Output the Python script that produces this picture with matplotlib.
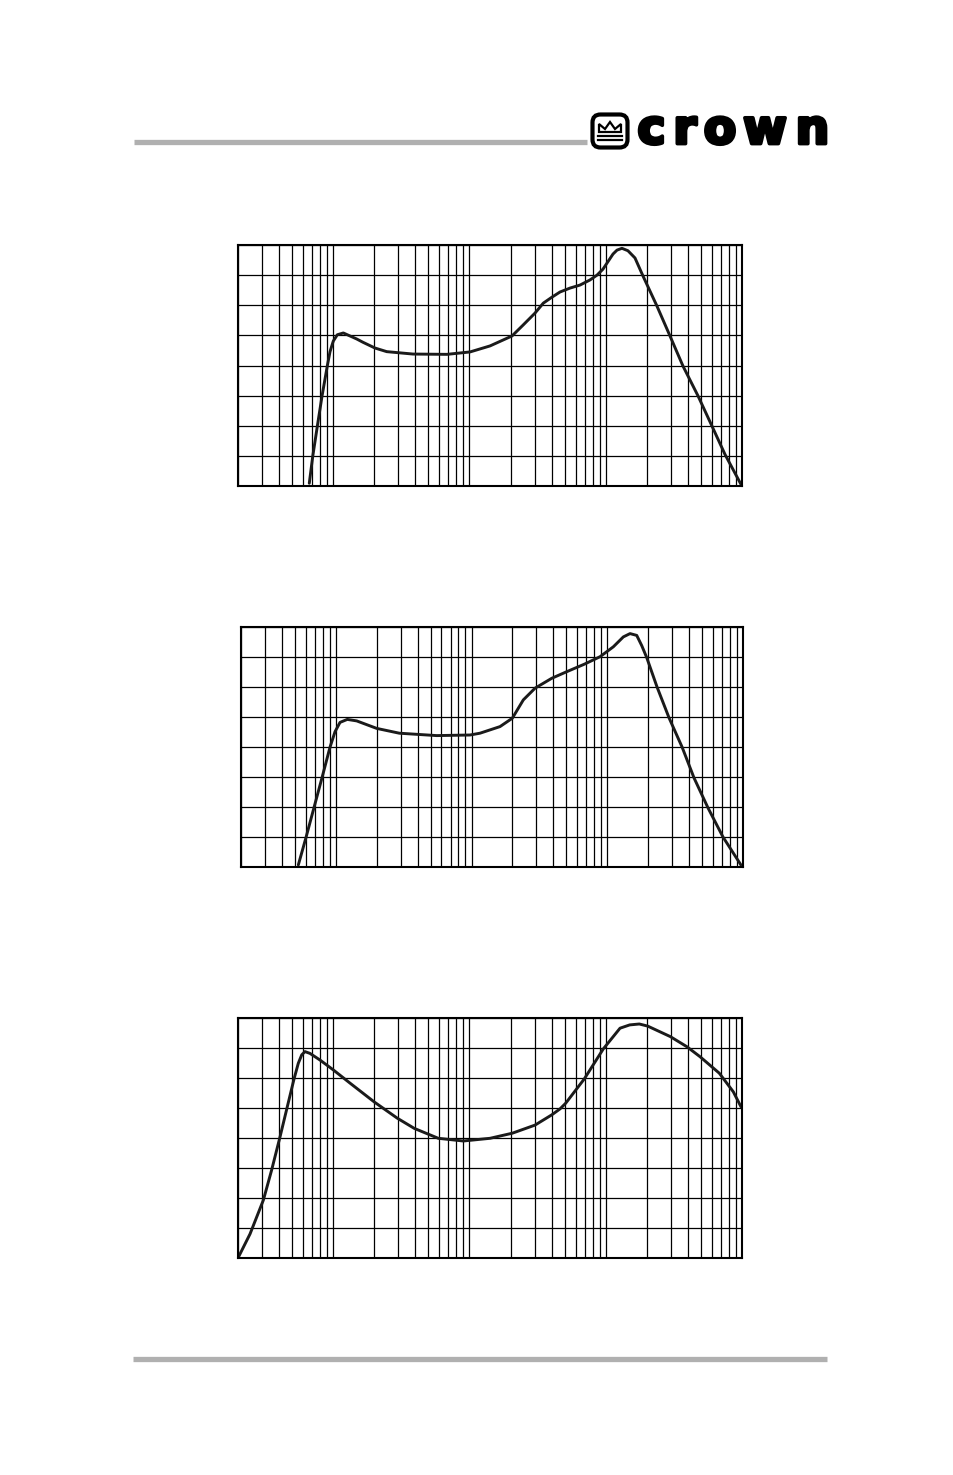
import numpy as np
import matplotlib
matplotlib.use("Agg")
import matplotlib.pyplot as plt
import matplotlib.patheffects as pe
from matplotlib.ticker import LogLocator, NullFormatter, FixedLocator
from matplotlib.patches import FancyBboxPatch, Polygon

# ---------------- data (frequency in Hz, level in grid divisions) ----------------
freq_1 = [66.7, 70.7, 76.4, 82.7, 90.4, 94.7, 100.1, 107.1, 118.6, 148.7, 165.4, 202.5,
          246.9, 384.9, 683.8, 1009, 1415, 2051, 2471, 3026, 3481, 4033, 4617, 5467,
          6474, 7664, 8628, 9548, 10390, 11305, 12094, 13150, 14550, 16390, 18770,
          23750, 29620, 36900, 47570, 60200, 75000, 98400]
level_1 = [0.09, 0.98, 1.98, 2.98, 3.98, 4.46, 4.81, 5.02, 5.08, 4.88, 4.77, 4.58,
           4.46, 4.38, 4.37, 4.45, 4.65, 4.98, 5.34, 5.74, 6.07, 6.27, 6.44, 6.57,
           6.67, 6.84, 7.0, 7.2, 7.45, 7.7, 7.83, 7.89, 7.81, 7.57, 6.97,
           5.975, 4.98, 3.98, 2.99, 1.99, 1.05, 0.05]

freq_2 = [52.9, 60.3, 69.0, 79.1, 90.5, 98.6, 107.3, 121.4, 142.4, 200, 293.4, 553.6,
          974, 1154, 1367, 1620, 1997, 2406, 2935, 3896, 5024, 6774, 8842, 11080,
          13130, 14710, 16480, 17940, 19530, 23260, 28530, 35560, 43560, 55230,
          71220, 96500]
level_2 = [0.07, 0.99, 1.98, 2.98, 3.99, 4.51, 4.82, 4.92, 4.87, 4.62, 4.46, 4.38,
           4.40, 4.46, 4.57, 4.68, 4.96, 5.57, 5.96, 6.29, 6.51, 6.76, 7.01, 7.34,
           7.67, 7.78, 7.72, 7.38, 6.98, 6.0, 4.97, 4.0, 2.97, 1.97,
           1.0, 0.07]

freq_3 = [20, 24.5, 30.7, 35.3, 40.7, 46.0, 51.5, 55.4, 58.7, 62.0, 67.5, 79.9, 100.1,
          132.7, 200.2, 295.3, 393.6, 590.3, 900.7, 1415, 2062, 3026, 4012, 4617,
          5083, 6960, 9596, 12730, 15000, 17640, 20320, 29780, 39490, 49190, 68150,
          86350, 98330]
level_3 = [0.0, 0.8, 1.93, 2.93, 4.04, 5.04, 5.96, 6.49, 6.77, 6.88, 6.82, 6.60, 6.27,
           5.83, 5.20, 4.66, 4.32, 3.99, 3.90, 3.99, 4.16, 4.43, 4.77, 4.97,
           5.16, 5.97, 6.97, 7.66, 7.77, 7.80, 7.73, 7.38, 7.04, 6.71, 6.16,
           5.54, 5.04]

freq_range = (20, 100000)
level_divisions = list(range(0, 9))

W, H = 954, 1475
fig = plt.figure(figsize=(W / 100, H / 100), dpi=100)

# page decoration layer in pixel coords
bg = fig.add_axes([0, 0, 1, 1])
bg.set_xlim(0, W)
bg.set_ylim(H, 0)
bg.axis("off")
gray = "#b0b0b0"
bg.plot([134, 587], [141.5, 141.5], color=gray, lw=3.8, solid_capstyle="butt")
bg.plot([133, 827], [1358.5, 1358.5], color=gray, lw=3.8, solid_capstyle="butt")

# crown logo icon
icon = FancyBboxPatch((592.5, 114.5), 35, 33, boxstyle="round,pad=0,rounding_size=8",
                      fill=False, ec="black", lw=3.0)
bg.add_patch(icon)
crown = Polygon([(599, 132), (599, 124), (605, 129), (610, 122), (615, 129), (621, 124), (621, 132)],
                closed=True, fill=False, ec="black", lw=1.6, joinstyle="miter")
bg.add_patch(crown)
bg.plot([598, 622], [135.8, 135.8], color="black", lw=1.6)
bg.plot([598, 622], [140.0, 140.0], color="black", lw=1.6)

letters = ["c", "r", "o", "w", "n"]
letter_centers = [651.5, 685, 720, 765, 812.5]
for ch, cx in zip(letters, letter_centers):
    bg.text(cx, 143.6, ch, fontsize=34, fontweight="bold", family="DejaVu Sans",
            ha="center", va="baseline", color="black",
            path_effects=[pe.withStroke(linewidth=2.6, foreground="black")])

panels = [
    ((238, 742, 245, 486), freq_1, level_1),
    ((241, 743, 627, 867), freq_2, level_2),
    ((238, 742, 1018, 1258), freq_3, level_3),
]

for (l, r, t, b), fr, lv in panels:
    ax = fig.add_axes([l / W, 1 - b / H, (r - l) / W, (b - t) / H])
    ax.set_xscale("log")
    ax.set_xlim(*freq_range)
    ax.set_ylim(level_divisions[0], level_divisions[-1])
    ax.xaxis.set_major_locator(LogLocator(base=10, numticks=20))
    ax.xaxis.set_minor_locator(LogLocator(base=10, subs=np.arange(2, 10), numticks=30))
    ax.xaxis.set_minor_formatter(NullFormatter())
    ax.yaxis.set_major_locator(FixedLocator(level_divisions))
    ax.grid(which="both", axis="x", color="black", lw=0.9)
    ax.grid(which="major", axis="y", color="black", lw=0.9)
    ax.tick_params(which="both", length=0, labelbottom=False, labelleft=False)
    for s in ax.spines.values():
        s.set_linewidth(1.5)
        s.set_color("black")
    ax.plot(fr, lv, color="#1a1a1a", lw=2.1, solid_joinstyle="round",
            solid_capstyle="round", clip_on=True)

fig.savefig("out.png", dpi=100)
